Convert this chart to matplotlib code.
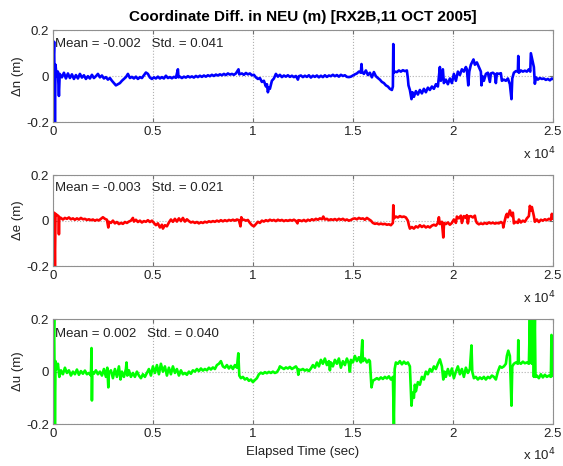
import matplotlib
matplotlib.use("Agg")
import matplotlib.pyplot as plt

plt.rcParams['font.family'] = ['Liberation Sans', 'DejaVu Sans']

# North component (time in sec, diff in m)
t_n = [0, 60, 100, 130, 180, 250, 300, 340, 450, 550, 650, 750, 850, 950, 1050, 1150, 1250, 1350, 1450, 1550,
       1650, 1750, 1850, 1950, 2050, 2150, 2250, 2350, 2450, 2550, 2650, 2750, 2850, 2950, 3050, 3150, 3250, 3350,
       3450, 3550, 3650, 3750, 3850, 3950, 4050, 4150, 4250, 4350, 4450, 4550, 4650, 4750, 4850, 4950, 5050, 5150,
       5250, 5350, 5450, 5550, 5650, 5750, 5850, 5950, 6050, 6150, 6250, 6280, 6350, 6450, 6550, 6650, 6750, 6850,
       6950, 7050, 7150, 7250, 7350, 7450, 7550, 7650, 7750, 7850, 7950, 8050, 8150, 8250, 8350, 8450, 8550, 8650,
       8750, 8850, 8950, 9050, 9150, 9280, 9320, 9450, 9550, 9650, 9750, 9850, 9950, 10050, 10150, 10250, 10350,
       10450, 10550, 10650, 10700, 10750, 10800, 10850, 10950, 11050, 11150, 11250, 11350, 11450, 11550, 11650,
       11750, 11850, 11950, 12050, 12150, 12250, 12300, 12400, 12500, 12600, 12700, 12800, 12900, 13000, 13100,
       13200, 13300, 13400, 13500, 13600, 13700, 13800, 13900, 14000, 14100, 14200, 14300, 14400, 14500, 14600,
       14700, 14800, 14900, 15000, 15100, 15200, 15300, 15400, 15430, 15460, 15550, 15650, 15750, 15850, 15950,
       16050, 16150, 16250, 16350, 16450, 16550, 16650, 16750, 16850, 16950, 17000, 17020, 17040, 17100, 17200,
       17300, 17400, 17500, 17600, 17700, 17750, 17780, 17850, 17930, 17980, 18050, 18150, 18250, 18350, 18450,
       18550, 18650, 18750, 18850, 18950, 19050, 19150, 19250, 19350, 19400, 19500, 19550, 19650, 19750, 19850,
       19950, 20050, 20150, 20250, 20350, 20450, 20550, 20650, 20700, 20770, 20820, 20900, 21030, 21100, 21200,
       21300, 21400, 21430, 21480, 21550, 21650, 21750, 21850, 21900, 22000, 22100, 22150, 22200, 22300, 22400,
       22450, 22550, 22650, 22750, 22850, 22930, 22970, 23050, 23150, 23250, 23270, 23300, 23400, 23500, 23600,
       23700, 23800, 23870, 23900, 23950, 24000, 24050, 24100, 24150, 24250, 24350, 24450, 24550, 24650, 24750,
       24850, 24950, 25000]
dn = [0.0, 0.15, -0.2, 0.05, 0.0, 0.02, -0.086, 0.01, -0.005, 0.015, -0.01, 0.012, -0.008, 0.008, -0.012, 0.005,
      -0.01, 0.01, -0.006, 0.004, -0.012, 0.0, -0.01, 0.006, -0.008, 0.0, 0.01, -0.005, 0.003, -0.01, -0.004, -0.015,
      -0.008, -0.02, -0.03, -0.04, -0.035, -0.03, -0.02, -0.012, -0.004, 0.01, -0.008, -0.003, -0.01, -0.002, -0.012,
      -0.004, -0.008, 0.004, 0.016, 0.01, -0.006, -0.012, -0.005, -0.01, -0.002, -0.01, -0.004, -0.01, 0.002, -0.008,
      -0.004, -0.009, -0.003, -0.007, 0.03, -0.005, -0.002, -0.008, -0.002, -0.006, 0.0, -0.005, -0.001, -0.006,
      0.001, -0.004, 0.002, -0.003, 0.003, -0.002, 0.004, 0.0, 0.006, 0.001, 0.007, 0.003, 0.008, 0.004, 0.01, 0.005,
      0.012, 0.007, 0.01, 0.006, 0.012, 0.03, 0.008, 0.012, 0.006, 0.014, 0.008, 0.012, 0.004, 0.006, -0.005, -0.012,
      -0.008, -0.025, -0.02, -0.045, -0.035, -0.07, -0.05, -0.055, -0.02, -0.01, 0.01, -0.002, 0.006, -0.004, 0.003,
      -0.002, 0.004, -0.003, 0.002, -0.004, 0.001, -0.015, 0.0, 0.003, -0.004, 0.002, -0.003, 0.004, -0.006, 0.002,
      -0.003, 0.003, -0.005, 0.002, -0.004, 0.004, -0.003, 0.003, 0.0, 0.006, 0.0, 0.005, -0.002, 0.006, 0.001, 0.004,
      -0.003, -0.004, -0.002, 0.003, 0.008, 0.012, 0.02, 0.015, 0.053, 0.02, 0.01, 0.025, 0.005, 0.015, -0.005, 0.018,
      0.0, -0.008, -0.015, -0.025, -0.03, -0.04, -0.045, -0.055, -0.06, -0.045, 0.14, 0.015, 0.02, 0.018, 0.025, 0.02,
      0.026, 0.022, 0.025, -0.01, -0.04, -0.06, -0.10, -0.07, -0.09, -0.065, -0.08, -0.06, -0.075, -0.055, -0.07,
      -0.05, -0.06, -0.045, -0.055, -0.035, -0.045, 0.04, -0.02, 0.03, -0.03, -0.015, -0.035, -0.01, -0.03, 0.01,
      -0.02, 0.02, 0.005, 0.03, 0.02, 0.04, 0.03, -0.04, 0.02, 0.05, 0.073, 0.05, 0.06, 0.04, 0.02, -0.04, 0.0, -0.02,
      0.01, 0.015, -0.025, 0.012, 0.015, 0.008, -0.03, 0.012, 0.01, 0.013, -0.02, -0.015, -0.02, -0.01, -0.035, -0.10,
      -0.01, 0.015, 0.022, 0.02, 0.088, 0.015, 0.025, 0.02, 0.024, 0.02, 0.03, 0.02, 0.10, 0.08, 0.06, 0.04, -0.033,
      -0.005, -0.015, -0.008, -0.012, -0.01, -0.016, -0.012, -0.018, -0.01, -0.012]

# East component
t_e = [0, 60, 100, 130, 200, 280, 300, 320, 400, 500, 600, 700, 800, 900, 1000, 1100, 1200, 1300, 1400, 1500,
       1600, 1700, 1800, 1900, 2000, 2100, 2200, 2300, 2400, 2500, 2600, 2700, 2770, 2800, 2900, 3000, 3100, 3200,
       3300, 3400, 3500, 3600, 3700, 3800, 3900, 4000, 4050, 4150, 4250, 4350, 4450, 4550, 4650, 4750, 4850, 4950,
       5050, 5150, 5250, 5350, 5450, 5500, 5600, 5700, 5800, 5900, 6000, 6100, 6200, 6300, 6400, 6500, 6600, 6700,
       6800, 6900, 7000, 7100, 7200, 7300, 7400, 7500, 7600, 7700, 7800, 7900, 8000, 8100, 8200, 8300, 8400, 8500,
       8600, 8700, 8800, 8900, 9000, 9100, 9200, 9300, 9380, 9420, 9460, 9550, 9650, 9750, 9850, 9950, 10050, 10150,
       10250, 10350, 10450, 10550, 10650, 10750, 10850, 10950, 11050, 11150, 11250, 11350, 11450, 11550, 11650,
       11750, 11850, 11950, 12050, 12150, 12230, 12270, 12350, 12450, 12550, 12650, 12750, 12850, 12950, 13050,
       13150, 13250, 13350, 13450, 13520, 13600, 13700, 13800, 13900, 14000, 14100, 14200, 14300, 14400, 14500,
       14600, 14700, 14800, 14900, 15000, 15100, 15200, 15300, 15400, 15500, 15600, 15700, 15800, 15900, 16000,
       16100, 16200, 16300, 16400, 16500, 16600, 16700, 16800, 16900, 17000, 17020, 17050, 17150, 17250, 17350,
       17450, 17550, 17650, 17750, 17800, 17850, 17950, 18050, 18150, 18250, 18350, 18450, 18550, 18650, 18750,
       18850, 18950, 19050, 19150, 19250, 19300, 19350, 19450, 19520, 19560, 19650, 19750, 19850, 19950, 20050,
       20150, 20200, 20300, 20400, 20450, 20550, 20650, 20700, 20750, 20800, 20900, 21000, 21100, 21150, 21200,
       21300, 21400, 21500, 21600, 21700, 21800, 21900, 22000, 22100, 22200, 22300, 22400, 22500, 22520, 22580,
       22650, 22700, 22750, 22850, 22950, 23000, 23050, 23150, 23250, 23300, 23400, 23500, 23600, 23700, 23800,
       23850, 23900, 23950, 24000, 24050, 24100, 24200, 24300, 24400, 24500, 24600, 24700, 24800, 24900, 24950,
       25000]
de = [0.0, 0.035, -0.2, 0.03, 0.025, 0.02, -0.06, 0.015, 0.012, 0.005, 0.012, 0.008, 0.014, 0.006, 0.01, 0.004,
      0.01, 0.005, 0.012, 0.006, 0.008, 0.003, 0.006, 0.002, 0.005, 0.0, 0.004, 0.001, 0.008, 0.015, 0.008, 0.004,
      -0.03, -0.005, -0.01, 0.0, -0.012, -0.006, -0.015, -0.01, -0.014, -0.006, -0.01, -0.004, 0.0, 0.012, -0.004,
      0.004, -0.006, 0.0, -0.008, -0.002, -0.005, 0.002, -0.006, 0.0, -0.01, -0.02, -0.012, -0.03, -0.018, -0.035,
      -0.02, -0.025, -0.008, 0.005, -0.005, 0.008, -0.004, 0.01, -0.002, 0.012, -0.004, 0.006, -0.002, -0.008,
      -0.005, -0.01, -0.006, -0.012, -0.007, -0.01, -0.005, -0.008, -0.003, -0.006, -0.002, -0.005, 0.0, -0.004,
      0.002, -0.003, 0.002, -0.002, 0.003, 0.0, 0.004, 0.0, 0.005, 0.002, -0.025, 0.015, 0.005, 0.004, 0.0, 0.003,
      -0.01, -0.02, -0.025, -0.015, -0.005, -0.01, 0.0, -0.004, 0.002, -0.002, 0.004, 0.0, 0.003, -0.002, 0.004, 0.0,
      0.003, -0.002, 0.002, -0.001, 0.003, 0.0, 0.004, -0.001, -0.012, 0.002, 0.001, -0.002, 0.003, -0.003, 0.004,
      0.0, 0.006, 0.002, 0.008, 0.004, 0.01, 0.006, 0.018, 0.005, 0.008, 0.002, 0.006, 0.003, 0.007, 0.002, 0.008,
      0.004, 0.008, 0.002, 0.005, 0.0, 0.003, 0.008, 0.01, 0.006, 0.012, 0.008, 0.01, 0.004, 0.012, 0.006, 0.0,
      -0.01, -0.014, -0.012, -0.016, -0.013, -0.016, -0.014, -0.018, -0.016, -0.02, -0.01, 0.068, 0.01, 0.018,
      0.014, 0.02, 0.016, 0.018, 0.014, 0.0, -0.02, -0.035, -0.028, -0.035, -0.025, -0.03, -0.02, -0.028, -0.022,
      -0.03, -0.025, -0.03, -0.022, -0.018, -0.022, -0.01, 0.015, -0.015, -0.005, -0.074, -0.01, -0.015, -0.008,
      -0.018, -0.01, 0.005, -0.01, 0.018, 0.01, 0.022, -0.01, 0.02, 0.012, 0.024, -0.012, 0.018, 0.02, 0.014, 0.022,
      0.0, -0.01, -0.016, -0.012, -0.015, -0.01, -0.014, -0.008, -0.012, -0.009, -0.013, -0.01, -0.012, -0.006,
      -0.012, -0.03, -0.005, 0.02, 0.03, 0.015, 0.045, 0.02, 0.035, -0.012, -0.005, -0.01, 0.005, -0.008, 0.0,
      -0.005, 0.01, 0.02, 0.065, 0.045, 0.06, 0.04, 0.02, -0.005, 0.005, -0.006, 0.004, 0.0, 0.006, 0.002, 0.008,
      0.004, 0.03, 0.01]

# Up component
t_u = [0, 60, 100, 130, 180, 250, 320, 400, 500, 600, 700, 800, 900, 1000, 1100, 1200, 1300, 1400, 1500, 1600,
       1700, 1800, 1900, 1930, 1950, 1970, 2050, 2150, 2250, 2350, 2450, 2550, 2650, 2720, 2770, 2800, 2900, 3000,
       3100, 3200, 3300, 3380, 3450, 3550, 3650, 3680, 3720, 3800, 3900, 4000, 4100, 4200, 4300, 4400, 4500, 4600,
       4700, 4800, 4900, 5000, 5100, 5200, 5300, 5400, 5500, 5600, 5700, 5800, 5900, 6000, 6100, 6200, 6300, 6400,
       6500, 6600, 6700, 6800, 6900, 7000, 7100, 7200, 7300, 7400, 7500, 7600, 7700, 7800, 7900, 8000, 8100, 8200,
       8300, 8400, 8500, 8600, 8700, 8800, 8900, 9000, 9100, 9200, 9270, 9320, 9400, 9500, 9600, 9700, 9800, 9900,
       10000, 10100, 10200, 10300, 10400, 10500, 10600, 10700, 10800, 10900, 11000, 11100, 11200, 11300, 11350,
       11450, 11550, 11650, 11750, 11850, 11950, 12050, 12150, 12230, 12270, 12300, 12400, 12500, 12600, 12700,
       12800, 12900, 13000, 13100, 13200, 13300, 13400, 13500, 13600, 13700, 13800, 13850, 13900, 14000, 14100,
       14200, 14300, 14400, 14500, 14600, 14700, 14800, 14850, 14900, 15000, 15100, 15200, 15300, 15400, 15470,
       15500, 15600, 15700, 15800, 15850, 15930, 16000, 16100, 16200, 16300, 16400, 16500, 16600, 16700, 16800,
       16900, 17000, 17050, 17090, 17150, 17250, 17350, 17450, 17550, 17650, 17750, 17850, 17900, 17930, 17980,
       18050, 18100, 18150, 18250, 18350, 18450, 18550, 18650, 18750, 18850, 18950, 19050, 19150, 19250, 19350,
       19450, 19520, 19580, 19650, 19750, 19850, 19950, 20050, 20150, 20250, 20350, 20450, 20550, 20650, 20750,
       20850, 20930, 20970, 21050, 21150, 21250, 21350, 21450, 21550, 21650, 21750, 21850, 21950, 22050, 22150,
       22250, 22350, 22450, 22550, 22650, 22700, 22770, 22850, 22930, 22970, 23050, 23150, 23250, 23270, 23300,
       23400, 23500, 23600, 23700, 23800, 23850, 23880, 23950, 24000, 24050, 24100, 24130, 24200, 24300, 24400,
       24500, 24600, 24700, 24800, 24900, 24930, 24960, 25000]
du = [0.0, 0.2, -0.2, 0.04, 0.01, 0.03, -0.02, 0.005, -0.01, 0.015, -0.005, 0.005, -0.015, 0.0, -0.01, 0.008,
      -0.012, 0.002, -0.008, 0.004, -0.01, -0.005, -0.015, 0.09, -0.11, 0.0, -0.008, 0.005, -0.01, 0.0, -0.015, 0.01,
      -0.02, 0.015, -0.06, -0.005, 0.005, -0.025, 0.01, -0.02, 0.02, -0.03, 0.0, -0.02, 0.01, 0.035, -0.015, 0.005,
      -0.02, -0.005, -0.02, 0.0, -0.015, -0.025, -0.01, -0.02, -0.005, 0.01, -0.015, 0.02, -0.005, 0.025, -0.01,
      0.03, 0.0, 0.02, -0.015, 0.015, -0.01, 0.02, -0.005, 0.01, -0.015, 0.005, -0.01, -0.005, -0.012, 0.0, -0.008,
      0.005, 0.0, 0.01, 0.002, 0.012, 0.004, 0.01, 0.005, 0.015, 0.008, 0.016, 0.01, 0.025, 0.03, 0.04, 0.02, 0.015,
      0.025, 0.012, 0.022, 0.01, 0.025, 0.015, 0.07, -0.015, -0.025, -0.02, -0.03, -0.025, -0.035, -0.03, -0.04,
      -0.032, -0.025, -0.01, -0.004, -0.008, -0.002, -0.006, -0.001, -0.005, 0.0, -0.005, -0.002, 0.01, 0.02, 0.015,
      0.01, 0.016, 0.012, 0.018, 0.01, 0.015, 0.02, 0.01, -0.012, 0.008, 0.006, 0.01, 0.004, 0.008, 0.002, 0.012,
      0.025, 0.015, 0.035, 0.02, 0.045, 0.03, 0.05, 0.025, 0.04, 0.005, 0.035, 0.02, 0.045, 0.03, 0.05, 0.015, 0.04,
      0.025, 0.05, 0.03, 0.0, 0.045, 0.035, 0.06, 0.04, 0.055, 0.035, 0.12, 0.04, 0.05, 0.035, 0.045, 0.04, -0.06,
      -0.035, -0.03, -0.025, -0.03, -0.022, -0.028, -0.02, -0.026, -0.018, -0.03, -0.02, -0.2, 0.01, 0.035, 0.03,
      0.04, 0.028, 0.038, 0.03, 0.035, 0.02, -0.08, -0.13, -0.08, -0.1, -0.05, -0.075, -0.04, -0.05, -0.02, -0.03,
      0.0, -0.01, 0.01, 0.0, 0.02, 0.01, 0.03, 0.047, 0.02, -0.03, 0.0, -0.02, 0.01, -0.015, 0.012, -0.025, 0.0,
      0.02, -0.01, 0.01, -0.02, 0.015, -0.005, 0.01, 0.10, 0.0, -0.025, -0.02, -0.03, -0.022, -0.028, -0.02, -0.03,
      -0.02, -0.025, -0.015, -0.02, -0.03, 0.0, 0.02, 0.015, 0.02, 0.03, 0.06, 0.08, 0.06, -0.13, 0.02, 0.03, 0.035,
      0.03, 0.12, 0.035, 0.03, 0.038, 0.032, 0.035, 0.03, 0.2, 0.04, 0.03, 0.2, -0.02, 0.2, -0.02, -0.015, -0.025,
      -0.01, -0.022, -0.012, -0.02, -0.015, -0.02, 0.14, -0.01, -0.015]

labels = ['\u0394n (m)', '\u0394e (m)', '\u0394u (m)']
stats = ['Mean = -0.002   Std. = 0.041', 'Mean = -0.003   Std. = 0.021', 'Mean = 0.002   Std. = 0.040']
colors = ['#0000ff', '#ff0000', '#00ff00']
xticks = [0, 5000, 10000, 15000, 20000, 25000]
xticklabels = ['0', '0.5', '1', '1.5', '2', '2.5']
yticks = [-0.2, 0, 0.2]
yticklabels = ['-0.2', '0', '0.2']

fig = plt.figure(figsize=(5.63, 4.66), dpi=100)
boxes = [[0.094, 0.738, 0.888, 0.197],
         [0.094, 0.429, 0.888, 0.195],
         [0.094, 0.090, 0.888, 0.225]]
series = [(t_n, dn), (t_e, de), (t_u, du)]
exp_y = [-0.26, -0.26, -0.215]

for i in range(3):
    ax = fig.add_axes(boxes[i])
    t, v = series[i]
    ax.plot(t, v, color=colors[i], lw=1.9)
    ax.set_xlim(0, 25000)
    ax.set_ylim(-0.2, 0.2)
    ax.set_xticks(xticks)
    ax.set_xticklabels(xticklabels)
    ax.set_yticks(yticks)
    ax.set_yticklabels(yticklabels)
    ax.grid(True, linestyle=':', color='#b0b0b0', linewidth=0.8)
    ax.tick_params(direction='in', length=3, top=True, right=True, labelsize=9.5,
                   color='#707070', labelcolor='#222222', pad=3)
    for s in ax.spines.values():
        s.set_color('#909090')
    ax.set_ylabel(labels[i], fontsize=9.5, color='#222222', labelpad=1)
    ax.text(0.005, 0.92, stats[i], transform=ax.transAxes, fontsize=9.5,
            color='#222222', va='top', ha='left')
    ax.text(0.94, exp_y[i], 'x 10$^{4}$', transform=ax.transAxes, fontsize=9.5,
            color='#222222', va='top', ha='left')
    if i == 0:
        ax.set_title('Coordinate Diff. in NEU (m) [RX2B,11 OCT 2005]',
                     fontsize=11, fontweight='bold', pad=7)
    if i == 2:
        ax.set_xlabel('Elapsed Time (sec)', fontsize=9.5, color='#222222', labelpad=4)

fig.savefig('out.png', dpi=100)
